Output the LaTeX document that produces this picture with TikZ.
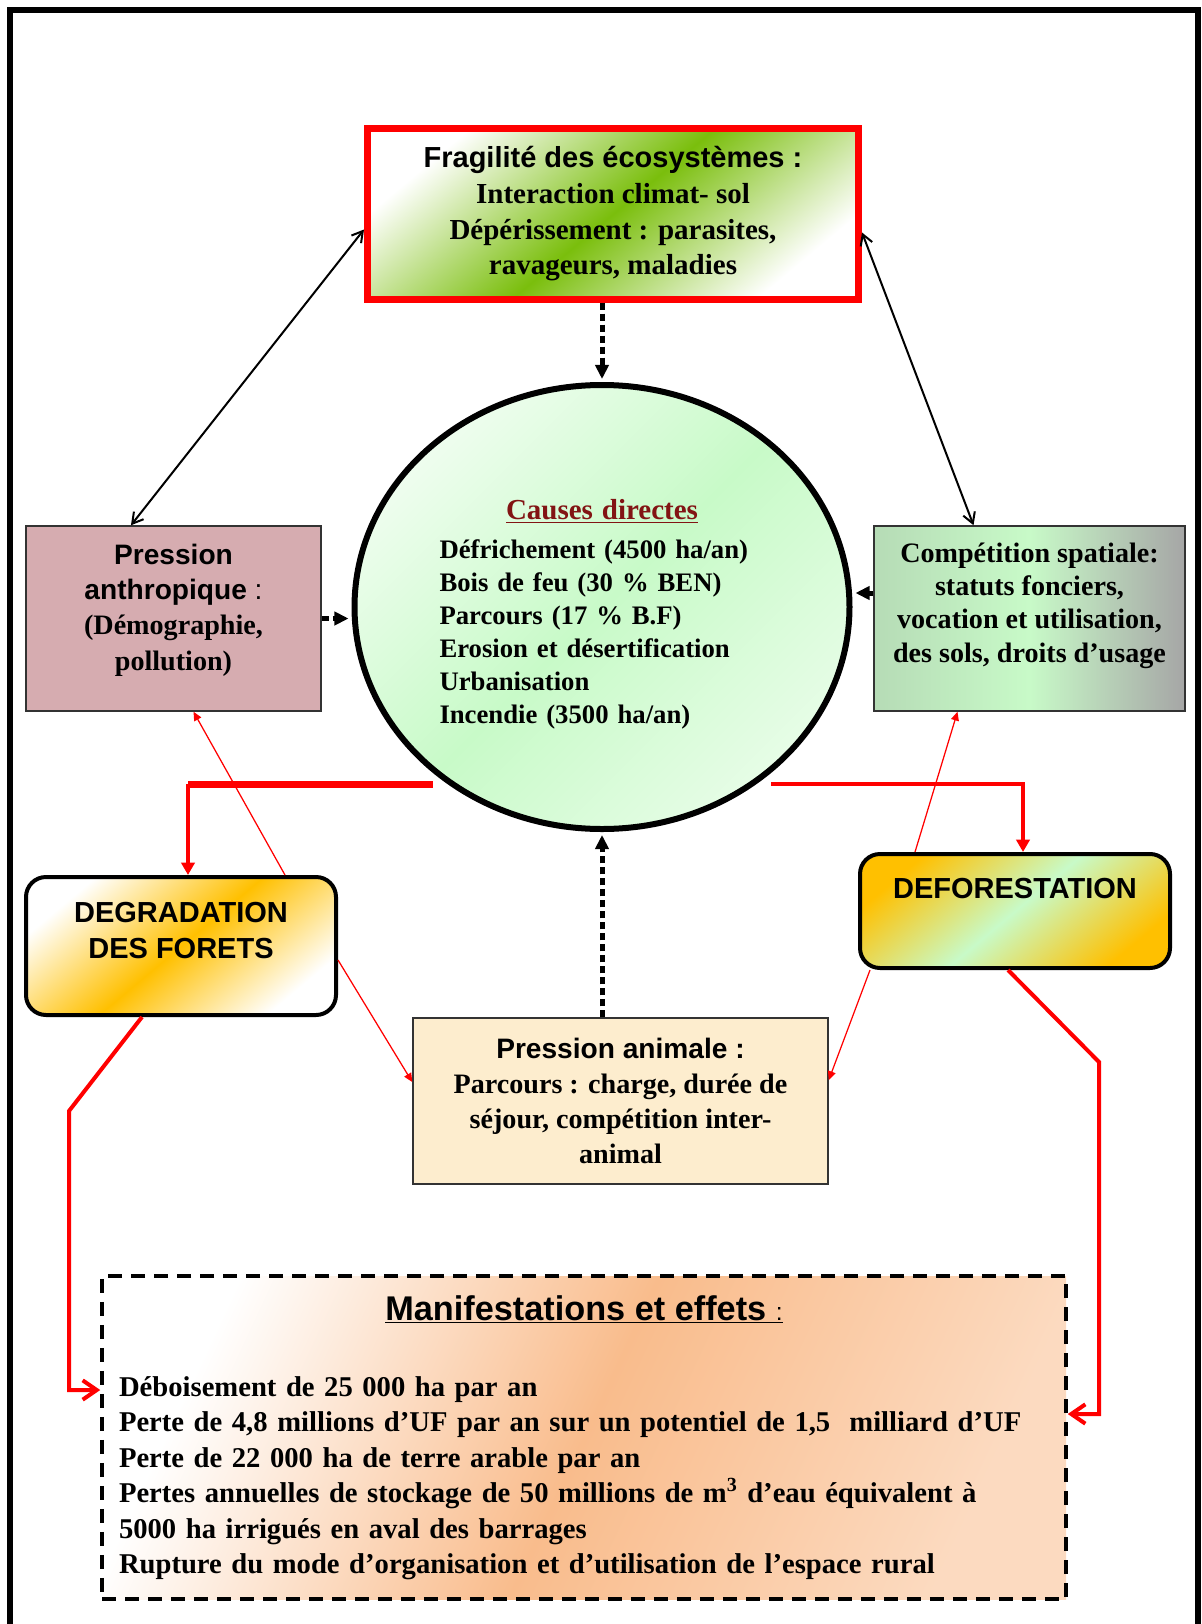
\documentclass[tikz,border=0pt]{standalone}
\usepackage{fontspec}
\setmainfont{Liberation Serif}
\setsansfont{Liberation Sans}
\usepackage{tikz}
\usetikzlibrary{positioning,shapes,calc,arrows.meta}

\definecolor{leafgreen}{RGB}{122,190,12}
\definecolor{mint}{RGB}{200,250,200}
\definecolor{mauve}{RGB}{214,172,176}
\definecolor{cream}{RGB}{253,237,206}
\definecolor{peach}{RGB}{249,188,140}
\definecolor{gold}{RGB}{255,192,0}
\definecolor{causered}{RGB}{130,20,20}

\tikzstyle{fragbox} = [rectangle, draw=red, line width=0.14cm, minimum width=9.82cm, minimum height=3.4cm, align=center, top color=white, bottom color=white, middle color=leafgreen, shading angle=40, font=\bfseries\fontsize{16.5}{20.3}\selectfont]
\tikzstyle{causebox} = [ellipse, draw=black, line width=0.12cm, minimum width=9.9cm, minimum height=8.88cm, inner sep=0pt, text width=6.5cm, align=left, top color=mint!30!white, bottom color=mint!45!white, middle color=mint, shading angle=45, font=\bfseries\fontsize{15.2}{18.8}\selectfont]
\tikzstyle{pressbox} = [rectangle, draw=black!80, line width=0.03cm, minimum height=3.7cm, align=center, font=\bfseries\fontsize{16}{20}\selectfont]
\tikzstyle{outbox} = [rectangle, rounded corners=0.4cm, draw=black, line width=0.08cm, minimum width=6.2cm, inner ysep=0pt, align=center, font=\sffamily\bfseries\fontsize{16.5}{20}\selectfont]
\tikzstyle{effectbox} = [rectangle, draw=black, line width=0.07cm, dash pattern=on 0.28cm off 0.18cm, minimum width=19.28cm, minimum height=6.46cm, inner xsep=0.34cm, text width=18.6cm, align=left, left color=white, right color=peach!55!white, middle color=peach, shading angle=65, font=\bfseries\fontsize{16.3}{20.2}\selectfont]
\tikzstyle{dblarrow} = [line width=0.04cm, {Straight Barb[length=6pt,width=7pt]}-{Straight Barb[length=6pt,width=7pt]}]
\tikzstyle{dotarrow} = [line width=0.1cm, dash pattern=on 0.14cm off 0.08cm, shorten >=0.06cm, -{Triangle[length=8pt,width=7.5pt]}]
\tikzstyle{redbar} = [red, line width=0.14cm, shorten <=0.3cm]
\tikzstyle{redfeed} = [red, line width=0.08cm, -{Triangle[length=7pt,width=7.5pt]}]
\tikzstyle{thinred} = [red, line width=0.025cm, -{Triangle[length=5pt,width=4.5pt]}]
\tikzstyle{redlink} = [red, line width=0.08cm, -{Straight Barb[length=8pt,width=11pt]}]

\begin{document}
\begin{tikzpicture}
\useasboundingbox (0,0) rectangle (24.02,-32.48);
\draw [line width=0.12cm] (0.2,-32.48) -- (0.2,-0.2) -- (23.96,-0.2) -- (23.96,-32.48);
%
\node (frag) at (12.26,-4.28) [fragbox] {{\sffamily Fragilité des écosystèmes :}\\
Interaction climat- sol\\ Dépérissement : parasites,\\ ravageurs, maladies};
%
\node (causes) at (12.04,-12.14) [causebox] {\makebox[\linewidth]{\rule{0pt}{19.5pt}\fontsize{16.5}{19}\selectfont\textcolor{causered}{\underline{Causes directes}}}\\[0.12cm]
Défrichement (4500 ha/an)\\ Bois de feu (30 \% BEN)\\ Parcours (17 \% B.F)\\
Erosion et désertification\\ Urbanisation\\ Incendie (3500 ha/an)};
%
\node (anthro) at (3.47,-12.37) [pressbox, minimum width=5.9cm, inner ysep=0pt, text height=2.88cm, text depth=0.82cm, fill=mauve] {{\sffamily Pression}\\
{\sffamily anthropique}{\sffamily\mdseries\ :}\\ (Démographie,\\ pollution)};
%
\node (compet) at (20.59,-12.37) [pressbox, minimum width=6.22cm, inner ysep=0pt, text height=2.72cm, text depth=0.98cm, font=\bfseries\fontsize{16}{18.9}\selectfont, left color=mint!75!gray, right color=gray!70, middle color=mint] {Compétition spatiale:\\
statuts fonciers,\\ vocation et utilisation,\\ des sols, droits d’usage};
%
\node (degr) at (3.62,-18.92) [outbox, top color=white, bottom color=white, middle color=gold, shading angle=40, text height=1.62cm, text depth=1.14cm] {DEGRADATION\\ DES FORETS};
%
\node (defor) at (20.3,-18.22) [outbox, top color=gold, bottom color=gold, middle color=mint, shading angle=40, text height=0.88cm, text depth=1.4cm] {DEFORESTATION};
%
\node (animal) at (12.41,-22.02) [pressbox, minimum width=8.3cm, minimum height=3.32cm, fill=cream] {{\sffamily Pression animale :}\\
Parcours : charge, durée de\\ séjour, compétition inter-\\ animal};
%
\node (manif) at (11.68,-28.75) [effectbox] {\makebox[\linewidth]{\sffamily\fontsize{19.5}{22}\selectfont\underline{Manifestations et effets{\mdseries\fontsize{14}{16}\selectfont\ :}}}\\[0.81cm]
Déboisement de 25 000 ha par an\\
Perte de 4,8 millions d’UF par an sur un potentiel de 1,5\ \ milliard d’UF\\
Perte de 22 000 ha de terre arable par an\\
Pertes annuelles de stockage de 50 millions de m\textsuperscript{3} d’eau équivalent à\\
5000 ha irrigués en aval des barrages\\
Rupture du mode d’organisation et d’utilisation de l’espace rural};
%
\draw [dblarrow] ($(frag.west)+(0,-0.31)$) -- ($(anthro.north)+(-0.85,0)$);
\draw [dblarrow] ($(frag.east)+(0,-0.37)$) -- ($(compet.north)+(-1.12,0)$);
%
\draw [dotarrow] (frag.south -| causes.north) -- (causes.north);
\draw [dotarrow] (anthro.east) -- (anthro.east -| causes.west);
\coordinate (cwest) at ($(compet.west)+(0,0.51)$);
\draw [dotarrow] (cwest) -- (cwest -| causes.east);
\draw [dotarrow] (animal.north -| causes.south) -- (causes.south);
%
\coordinate (lfeed) at ($(degr.north)+(0.14,0)$);
\coordinate (rfeed) at ($(defor.north)+(0.16,0)$);
\draw [redbar] (causes.229) -- (causes.229 -| lfeed);
\draw [redfeed] (causes.229 -| lfeed) -- (lfeed);
\draw [redfeed, shorten <=0.3cm] (causes.311) -| (rfeed);
%
\draw [thinred] ($(degr.north)+(2.08,0)$) -- ($(anthro.south)+(0.4,0)$);
\draw [thinred] ($(defor.north)+(-2.0,0)$) -- ($(compet.south)+(-1.44,0)$);
\draw [thinred] ($(degr.east)+(0,-0.28)$) -- ($(animal.west)+(0,0.38)$);
\draw [thinred] ($(defor.south)+(-2.9,0)$) -- ($(animal.east)+(0,0.42)$);
%
\coordinate (lbend) at (1.38,-22.22);
\coordinate (rbend) at (21.98,-21.24);
\draw [redlink] ($(degr.south)+(-0.78,0)$) -- (lbend) |- ($(manif.west)+(0,0.95)$);
\draw [redlink] ($(defor.south)+(-0.14,0)$) -- (rbend) |- ($(manif.east)+(0,0.47)$);

\end{tikzpicture}
\end{document}
